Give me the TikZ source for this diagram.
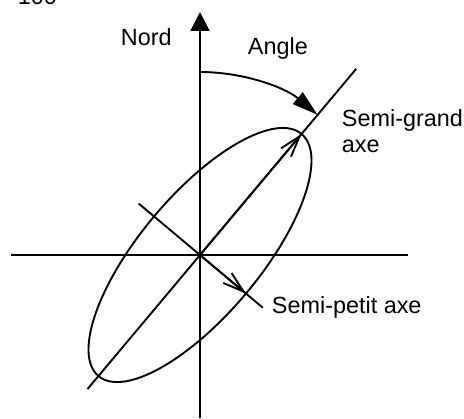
\documentclass[tikz,border=0pt]{standalone}
\usepackage{fontspec}
\setmainfont{Liberation Sans}
\usetikzlibrary{arrows.meta,calc}
\begin{document}
\begin{tikzpicture}[x=0.5pt,y=0.5pt,line width=0.95pt,
  lbl/.style={anchor=base west,inner sep=0pt,font=\fontsize{11.7}{14}\selectfont},
  openhead/.style={-{Straight Barb[length=10.5pt,width=6.5pt]}},
  northhead/.style={-{Triangle[length=9.5pt,width=9.5pt]}},
  anglehead/.style={-{Triangle[length=13pt,width=7.5pt]}}]
\useasboundingbox (0,0) rectangle (464,418);
% key points
\coordinate (O) at (200,163);
\coordinate (Ntop) at (200,406);
\coordinate (Sbot) at (200,0);
\coordinate (Wend) at (11,163);
\coordinate (Eend) at (408,163);
\coordinate (MajTop) at ($(O)+(50:243)$);
\coordinate (MajBot) at ($(O)+(230:175)$);
\coordinate (MajTip) at ($(O)+(50:158)$);
\coordinate (MinUL) at ($(O)+(140:80)$);
\coordinate (MinLR) at ($(O)+(-40:82)$);
\coordinate (MinTip) at ($(O)+(-40:60)$);
\coordinate (ArcStart) at ($(O)+(90:183)$);
% axes
\draw[northhead] (Sbot) -- (Ntop);
\draw (Wend) -- (Eend);
% ellipse
\draw[rotate around={50:(O)}] (O) ellipse [x radius=79pt,y radius=30pt];
% major axis
\draw (MajBot) -- (MajTop);
\draw[openhead] (O) -- (MajTip);
% minor axis
\draw (MinUL) -- (MinLR);
\draw[openhead] (O) -- (MinTip);
% angle arc
\draw[anglehead] (ArcStart) arc[start angle=90,end angle=50,radius=91.5pt];
% labels
\node[lbl] (t100) at (17,413) {100};
\node[lbl] (nord) at (120,372) {Nord};
\node[lbl] (angle) at (247,363) {Angle};
\node[lbl] (sg) at (341,292) {Semi-grand};
\node[lbl] (sgaxe) at (341,265) {axe};
\node[lbl] (sp) at (271,105) {Semi-petit axe};
\end{tikzpicture}
\end{document}
